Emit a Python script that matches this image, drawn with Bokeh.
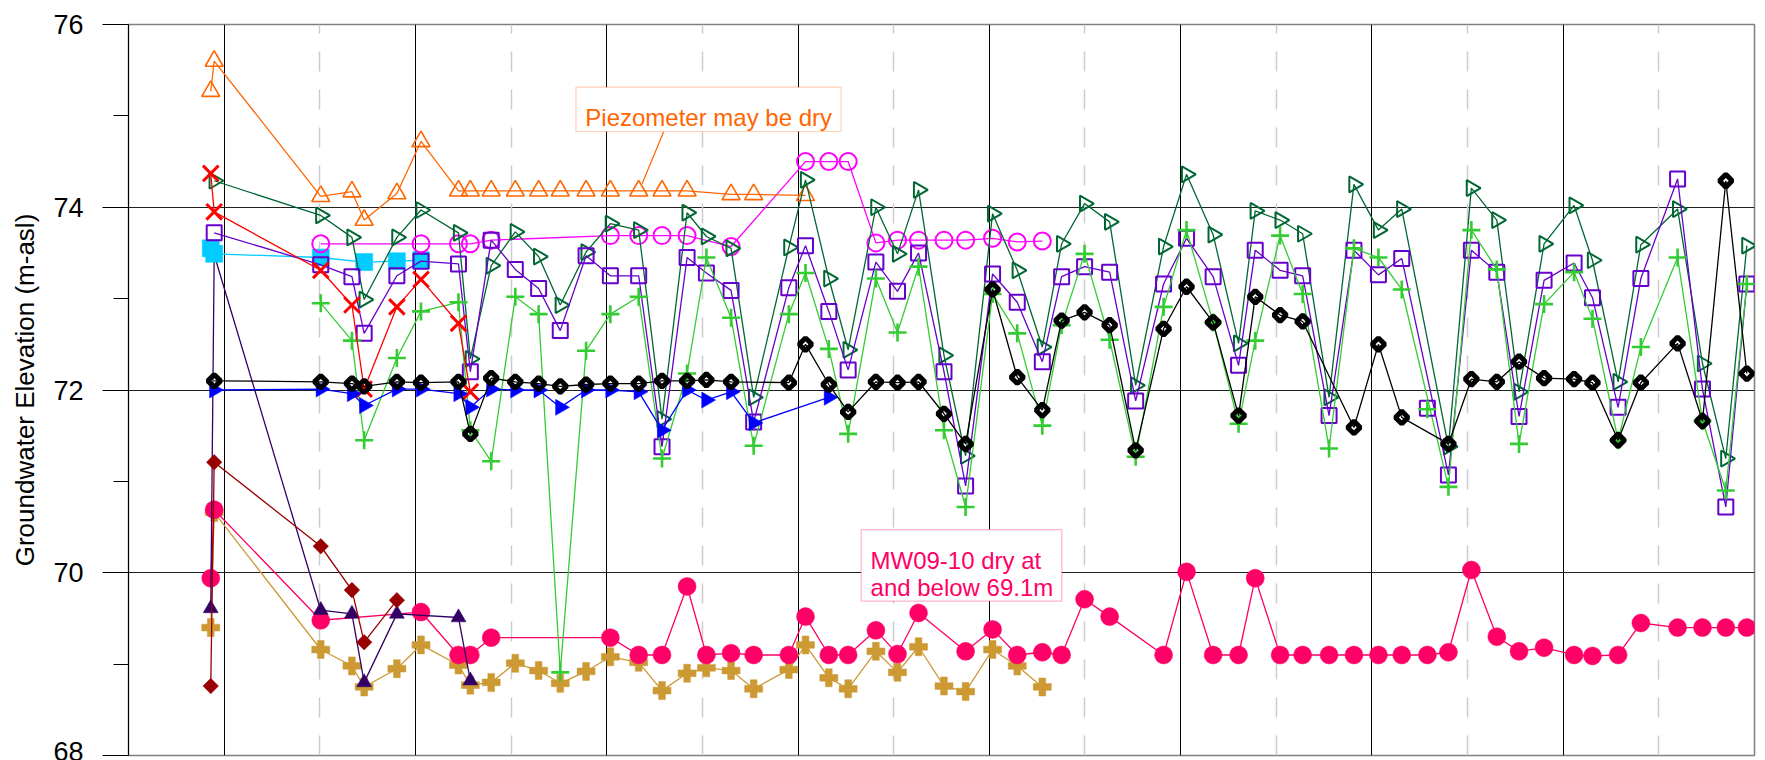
import math

from bokeh.embed import file_html
from bokeh.models import BoxAnnotation, FixedTicker, Grid, Label
from bokeh.plotting import figure
from bokeh.resources import INLINE

N = None

# Monitoring events (decimal years)
event_year = [
    2009.930, 2009.948, 2010.505, 2010.668, 2010.732, 2010.903, 2011.029, 2011.225, 2011.287, 2011.396,
    2011.522, 2011.644, 2011.757, 2011.892, 2012.019, 2012.167, 2012.289, 2012.420, 2012.521, 2012.650,
    2012.768, 2012.952, 2013.039, 2013.161, 2013.262, 2013.407, 2013.520, 2013.630, 2013.763, 2013.876,
    2014.017, 2014.146, 2014.277, 2014.378, 2014.498, 2014.629, 2014.765, 2014.911, 2015.031, 2015.170,
    2015.303, 2015.390, 2015.520, 2015.638, 2015.776, 2015.906, 2016.034, 2016.156, 2016.290, 2016.400,
    2016.520, 2016.653, 2016.769, 2016.900, 2017.057, 2017.153, 2017.287, 2017.406, 2017.598, 2017.728,
    2017.850, 2017.960,
]

# Groundwater elevations (m-asl), one entry per event; None = not measured
piezometer = [
    75.27, 75.60, 74.12, 74.17, 73.86, 74.15, 74.72, 74.18, 74.18, 74.18,
    74.18, 74.18, 74.18, 74.18, 74.18, 74.18, 74.18, 74.18, N, 74.14,
    74.14, N, 74.13,
]
well_red = [74.37, 73.95, 73.31, 72.93, 72.01, 72.91, 73.21, 72.73, 71.98]
well_cyan = [73.55, 73.49, 73.45, N, 73.40, 73.41, 73.42]
well_maroon = [68.76, 71.21, 70.29, 69.81, 69.24, 69.70]
well_indigo = [69.61, 73.48, 69.59, 69.55, 68.80, 69.55, N, 69.51, 68.82]
well_blue = [
    N, 72.00, 72.01, 71.96, 71.83, 72.01, 72.01, 71.96, 71.81, 72.01,
    72.00, 72.00, 71.81, 72.00, 72.00, 71.98, 71.56, 72.00, 71.89, 71.98,
    71.64, N, N, 71.92,
]
well_magenta = [
    N, N, 73.60, N, N, N, 73.60, 73.60, 73.60, 73.64,
    N, N, N, N, 73.69, 73.69, 73.69, 73.69, N, 73.57,
    N, N, 74.50, 74.50, 74.50, 73.61, 73.64, 73.64, 73.64, 73.64,
    73.66, 73.62, 73.63,
]
mw09_10 = [
    69.94, 70.69, 69.48, N, N, N, 69.57, 69.10, 69.10, 69.29,
    N, N, N, N, 69.29, 69.10, 69.10, 69.85, 69.10, 69.12,
    69.10, 69.10, 69.52, 69.10, 69.10, 69.37, 69.11, 69.56, N, 69.14,
    69.38, 69.10, 69.13, 69.10, 69.71, 69.52, N, 69.10, 70.01, 69.10,
    69.10, 69.94, 69.10, 69.10, 69.10, 69.10, 69.10, 69.10, 69.10, 69.13,
    70.03, 69.30, 69.14, 69.18, 69.10, 69.09, 69.10, 69.45, 69.40, 69.40,
    69.40, 69.40,
]
well_tan = [
    69.40, 70.66, 69.16, 68.98, 68.75, 68.95, 69.21, 68.99, 68.77, 68.80,
    69.01, 68.93, 68.79, 68.92, 69.08, 69.02, 68.71, 68.90, 68.96, 68.93,
    68.73, 68.94, 69.21, 68.85, 68.73, 69.14, 68.91, 69.19, 68.76, 68.70,
    69.16, 68.98, 68.75,
]
well_black = [
    N, 72.10, 72.09, 72.07, 72.04, 72.09, 72.08, 72.09, 71.52, 72.13,
    72.09, 72.07, 72.04, 72.06, 72.07, 72.07, 72.10, 72.10, 72.11, 72.09,
    N, 72.08, 72.50, 72.06, 71.76, 72.09, 72.08, 72.09, 71.74, 71.41,
    73.10, 72.14, 71.78, 72.76, 72.85, 72.71, 71.34, 72.67, 73.13, 72.74,
    71.72, 73.02, 72.82, 72.75, N, 71.59, 72.50, 71.70, N, 71.41,
    72.12, 72.09, 72.31, 72.13, 72.12, 72.08, 71.45, 72.08, 72.51, 71.66,
    74.29, 72.18,
]
well_green = [
    N, 74.29, 73.91, 73.67, 72.99, 73.67, 73.97, 73.72, 72.34, 73.36,
    73.73, 73.46, 72.93, 73.51, 73.82, 73.75, 71.68, 73.94, 73.68, 73.55,
    71.92, 73.56, 74.30, 73.22, 72.44, 74.00, 73.49, 74.19, 72.38, 71.28,
    73.93, 73.31, 72.47, 73.60, 74.04, 73.84, 72.05, 73.57, 74.36, 73.70,
    72.51, 73.96, 73.86, 73.71, 71.92, 74.25, 73.75, 73.98, N, 71.38,
    74.21, 73.86, 71.98, 73.60, 74.02, 73.42, 72.09, 73.59, 73.98, 72.29,
    71.25, 73.58,
]
well_violet = [
    N, 73.72, 73.37, 73.24, 72.62, 73.25, 73.41, 73.38, 72.20, 73.64,
    73.32, 73.11, 72.65, 73.47, 73.25, 73.25, 71.38, 73.45, 73.28, 73.09,
    71.65, 73.12, 73.58, 72.86, 72.22, 73.40, 73.08, 73.50, 72.20, 70.95,
    73.27, 72.96, 72.31, 73.24, 73.35, 73.29, 71.88, 73.16, 73.66, 73.24,
    72.27, 73.53, 73.31, 73.25, 71.72, 73.53, 73.26, 73.44, N, 71.07,
    73.53, 73.29, 71.71, 73.20, 73.39, 73.01, 71.81, 73.22, 74.31, 72.01,
    70.72, 73.16,
]
well_lime = [
    N, N, 72.95, 72.54, 71.45, 72.35, 72.86, 72.96, 71.56, 71.22,
    73.02, 72.83, 68.91, 72.43, 72.83, 73.02, 71.25, 72.18, 73.45, 72.79,
    71.39, 72.83, 73.28, 72.45, 71.52, 73.22, 72.63, 73.35, 71.56, 70.72,
    73.05, 72.62, 71.61, 72.71, 73.49, 72.55, 71.27, 72.91, 73.75, 72.74,
    71.63, 72.54, 73.69, 73.05, 71.36, 73.55, 73.45, 73.10, N, 70.94,
    73.75, 73.32, 71.41, 72.94, 73.29, 72.78, 71.45, 72.47, 73.45, 71.66,
    70.90, 73.16,
]

# Stand-alone readings (not joined to their series line)
single_year = [2016.290]
single_violet = [71.80]
single_lime = [71.79]

year_ticks = [2010, 2011, 2012, 2013, 2014, 2015, 2016, 2017]
half_year_ticks = [2009.5, 2010.5, 2011.5, 2012.5, 2013.5, 2014.5, 2015.5, 2016.5, 2017.5]
elev_ticks = [68, 70, 72, 74, 76]
elev_minor = [69, 71, 73, 75]

FONT = "Liberation Sans"

p = figure(
    width=1765, height=760,
    x_range=(2009.5, 2018.0), y_range=(68, 76),
    output_backend="svg", toolbar_location=None,
    min_border_left=128, min_border_right=11, min_border_top=24, min_border_bottom=5,
    background_fill_color="white", border_fill_color="white",
)
p.xaxis.visible = False
p.outline_line_color = "#808080"
p.outline_line_width = 1.5

# grid: yearly solid lines, half-year dashed lines, 2 m horizontal lines
p.xgrid.ticker = FixedTicker(ticks=year_ticks)
p.xgrid.grid_line_color = "black"
p.xgrid.grid_line_width = 1
p.ygrid.ticker = FixedTicker(ticks=elev_ticks)
p.ygrid.grid_line_color = "#202020"
p.ygrid.grid_line_width = 1
p.add_layout(Grid(dimension=0, ticker=FixedTicker(ticks=half_year_ticks),
                  grid_line_color="#cccccc", grid_line_width=1.5, grid_line_dash="20 18"))

ax = p.yaxis[0]
ax.ticker = FixedTicker(ticks=elev_ticks, minor_ticks=elev_minor)
ax.axis_line_color = "black"
ax.major_tick_line_color = "black"
ax.minor_tick_line_color = "black"
ax.major_tick_out = 26
ax.major_tick_in = 0
ax.minor_tick_out = 15
ax.minor_tick_in = 0
ax.major_label_text_font = FONT
ax.major_label_text_font_size = "27px"
ax.major_label_text_color = "black"
ax.major_label_standoff = 19
ax.axis_label = "Groundwater Elevation (m-asl)"
ax.axis_label_text_font = FONT
ax.axis_label_text_font_size = "26px"
ax.axis_label_text_font_style = "normal"
ax.axis_label_text_color = "black"
ax.axis_label_standoff = 10


def draw(values, color, marker, size, filled, line_width=1.3, marker_line=1.6, angle=0.0):
    xs = [x for x, v in zip(event_year, values) if v is not None]
    ys = [v for v in values if v is not None]
    p.line(xs, ys, line_color=color, line_width=line_width)
    p.scatter(xs, ys, marker=marker, size=size, angle=angle,
              line_color=color, line_width=marker_line,
              fill_color=color if filled else None)


RIGHT = -math.pi / 2
TILT = math.pi / 4

draw(well_tan, "#CC9933", "plus", 18, True, marker_line=0.5)
draw(mw09_10, "#FF0066", "circle", 18, True, marker_line=0.5)
draw(well_indigo, "#330066", "triangle", 15, True, marker_line=0.5)
draw(well_maroon, "#990000", "square", 11, True, marker_line=0.5, angle=TILT)
draw(well_cyan, "#00CCFF", "square", 17, True, marker_line=0.5)
draw(well_magenta, "#FF00FF", "circle", 17, False, marker_line=2)
draw(piezometer, "#FF6600", "triangle", 18, False, marker_line=1.6)
draw(well_green, "#006633", "triangle", 16, False, marker_line=2, angle=RIGHT)
draw(well_violet, "#6600CC", "square", 15, False, marker_line=2)
draw(well_lime, "#33CC33", "cross", 18, False, marker_line=2.6)
draw(well_red, "#FF0000", "x", 22, False, marker_line=3)
draw(well_blue, "#0000FF", "triangle", 16, True, marker_line=0.5, angle=RIGHT)
draw(well_black, "black", "square", 9, False, marker_line=5, angle=TILT)

p.scatter(single_year, single_violet, marker="square", size=15, line_color="#6600CC",
          line_width=2, fill_color=None)
p.scatter(single_year, single_lime, marker="cross", size=18, line_color="#33CC33",
          line_width=2.6)

# note boxes
p.add_layout(BoxAnnotation(left=2011.839, right=2013.225, bottom=74.829, top=75.314,
                           fill_color="white", fill_alpha=1, line_color="#FF6600",
                           line_width=1.2, level="annotation"))
p.add_layout(Label(x=2011.888, y=74.986, text="Piezometer may be dry",
                   text_font=FONT, text_font_size="24px", text_color="#FF6600",
                   text_baseline="alphabetic"))
p.segment(x0=[2012.298], y0=[74.829], x1=[2012.185], y1=[74.257],
          line_color="#FF6600", line_width=1.2)

p.add_layout(BoxAnnotation(left=2013.330, right=2014.379, bottom=69.690, top=70.472,
                           fill_color="white", fill_alpha=1, line_color="#FF0066",
                           line_width=1.2, level="annotation"))
p.add_layout(Label(x=2013.379, y=70.136, text="MW09-10 dry at",
                   text_font=FONT, text_font_size="24px", text_color="#FF0066",
                   text_baseline="alphabetic"))
p.add_layout(Label(x=2013.379, y=69.844, text="and below 69.1m",
                   text_font=FONT, text_font_size="24px", text_color="#FF0066",
                   text_baseline="alphabetic"))

open("out.html", "w").write(file_html(p, INLINE))
